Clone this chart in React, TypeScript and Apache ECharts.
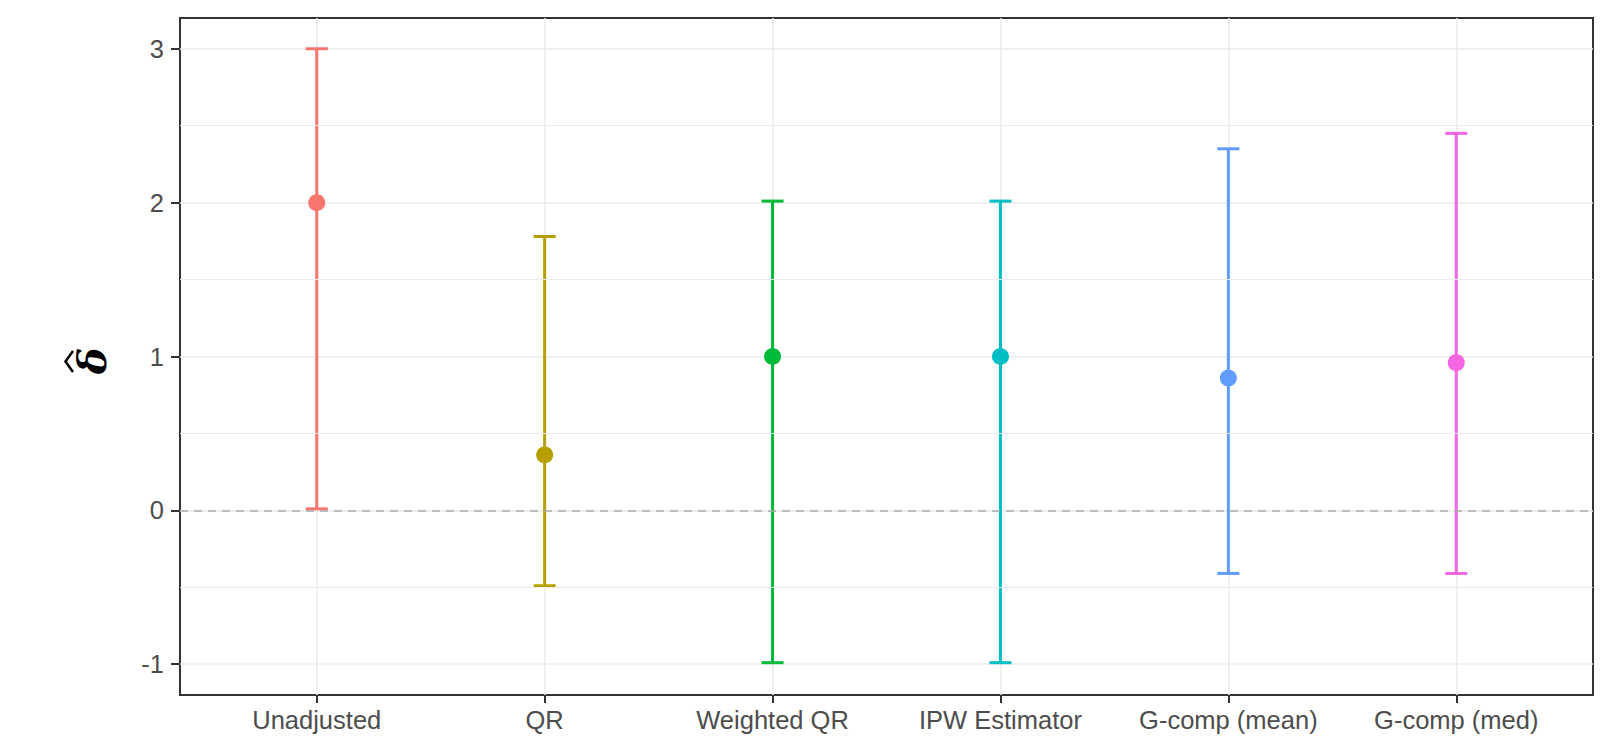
import React, { useEffect, useRef } from "react";
import * as echarts from "echarts";

const categories = ["Unadjusted", "QR", "Weighted QR", "IPW Estimator", "G-comp (mean)", "G-comp (med)"];
const estimates = [2.0, 0.36, 1.0, 1.0, 0.86, 0.96];
const lowerCI = [0.01, -0.49, -0.99, -0.99, -0.41, -0.41];
const upperCI = [3.0, 1.78, 2.01, 2.01, 2.35, 2.45];
const colors = ["#F8766D", "#B79F00", "#00BA38", "#00BFC4", "#619CFF", "#F564E3"];
const yMajorTicks = [-1, 0, 1, 2, 3];
const yMinorGrid = [-0.5, 0.5, 1.5, 2.5];
const refLineValue = 0;

export default function App() {
  const ref = useRef<HTMLDivElement>(null);
  useEffect(() => {
    document.body.style.margin = "0";
    const chart = echarts.init(ref.current!, null, { renderer: "svg" });
    const xPositions = categories.map((_, i) => i + 1);
    const errData = categories.map((_, i) => [i + 1, lowerCI[i], upperCI[i]]);
    const ptData = categories.map((_, i) => [i + 1, estimates[i]]);
    const font = "'Liberation Sans', Arial, sans-serif";
    chart.setOption({
      animation: false,
      backgroundColor: "#ffffff",
      grid: {
        left: 180,
        top: 18,
        right: 29,
        bottom: 48,
        show: true,
        backgroundColor: "#ffffff",
        borderColor: "#333333",
        borderWidth: 2,
        z: 0,
      },
      xAxis: {
        type: "value",
        min: 0.4,
        max: 6.6,
        position: "bottom",
        axisLine: { show: false, onZero: false },
        axisTick: {
          show: true,
          customValues: xPositions,
          length: 8,
          lineStyle: { color: "#333333", width: 2 },
        },
        axisLabel: {
          customValues: xPositions,
          formatter: (v: number) => categories[Math.round(v) - 1] ?? "",
          color: "#4D4D4D",
          fontSize: 25.5,
          fontFamily: font,
          margin: 12,
        },
        splitLine: { show: true, lineStyle: { color: "#EBEBEB", width: 1.5 } },
      },
      yAxis: {
        type: "value",
        min: -1.2,
        max: 3.2,
        axisLine: { show: false, onZero: false },
        axisTick: {
          show: true,
          customValues: yMajorTicks,
          length: 9,
          lineStyle: { color: "#333333", width: 2 },
        },
        axisLabel: {
          customValues: yMajorTicks,
          formatter: (v: number) => String(v),
          color: "#4D4D4D",
          fontSize: 25.5,
          fontFamily: font,
          margin: 16,
        },
        splitLine: { show: true, lineStyle: { color: "#EBEBEB", width: 1.5 } },
      },
      graphic: [
        {
          type: "text",
          x: 91,
          y: 361,
          rotation: Math.PI / 2,
          style: {
            text: "δ",
            font: "italic bold 40px 'DejaVu Serif'",
            fill: "#000000",
            align: "center",
            verticalAlign: "middle",
          },
        },
        {
          type: "polyline",
          shape: { points: [[73, 351], [65.5, 361.5], [73, 372]] },
          style: { stroke: "#000000", lineWidth: 2.5, fill: "none" },
        },
      ],
      series: [
        {
          type: "scatter",
          data: [],
          silent: true,
          z: 1,
          markLine: {
            silent: true,
            symbol: "none",
            label: { show: false },
            lineStyle: { color: "#EBEBEB", width: 1, type: "solid" },
            data: yMinorGrid.map((v) => ({ yAxis: v })),
          },
        },
        {
          type: "scatter",
          data: [],
          silent: true,
          z: 2,
          markLine: {
            silent: true,
            symbol: "none",
            label: { show: false },
            lineStyle: { color: "#ABABAB", width: 1.5, type: [8, 6] },
            data: [{ yAxis: refLineValue }],
          },
        },
        {
          type: "custom",
          z: 3,
          data: errData,
          renderItem: (params: any, api: any) => {
            const x = api.value(0);
            const lo = api.coord([x, api.value(1)]);
            const hi = api.coord([x, api.value(2)]);
            const half = 11;
            const stroke = colors[params.dataIndex];
            const style = { stroke, lineWidth: 3 };
            return {
              type: "group",
              children: [
                { type: "line", shape: { x1: lo[0], y1: lo[1], x2: hi[0], y2: hi[1] }, style },
                { type: "line", shape: { x1: lo[0] - half, y1: lo[1], x2: lo[0] + half, y2: lo[1] }, style },
                { type: "line", shape: { x1: hi[0] - half, y1: hi[1], x2: hi[0] + half, y2: hi[1] }, style },
              ],
            };
          },
        },
        {
          type: "scatter",
          z: 4,
          data: ptData,
          symbol: "circle",
          symbolSize: 17,
          itemStyle: { color: (p: any) => colors[p.dataIndex], opacity: 1 },
        },
      ],
    });
    return () => chart.dispose();
  }, []);
  return <div ref={ref} style={{ width: 1622, height: 743 }} />;
}
